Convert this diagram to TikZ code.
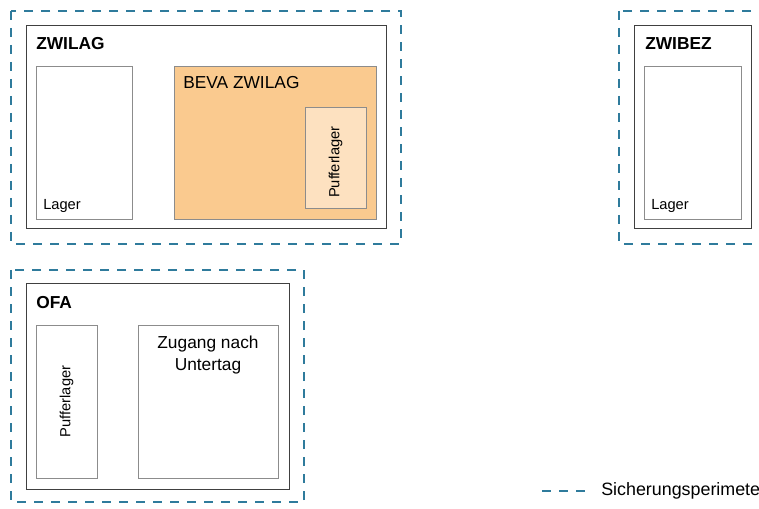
\documentclass[tikz,border=0pt]{standalone}
\usepackage{fontspec}
\setmainfont{Liberation Sans}
\usetikzlibrary{fit,positioning}

\definecolor{perimblue}{RGB}{47,123,156}
\definecolor{bevaorange}{RGB}{250,202,143}
\definecolor{pufferfill}{RGB}{253,225,192}
\definecolor{sitegray}{RGB}{64,64,64}
\definecolor{bldggray}{RGB}{140,140,140}

\tikzset{
  perim/.style={draw=perimblue, line width=0.9pt, dash pattern=on 6.75pt off 6pt},
  site/.style={draw=sitegray, line width=0.75pt, inner sep=0pt},
  bldg/.style={draw=bldggray, line width=0.6pt, inner sep=0pt},
  title/.style={font=\fontsize{13}{15.6}\selectfont\bfseries, anchor=base west, inner sep=0pt},
  lbl/.style={font=\fontsize{11}{13}\selectfont, anchor=base west, inner sep=0pt}
}

\begin{document}
\begin{tikzpicture}[x=0.75pt, y=-0.75pt]
    \clip (0,0) rectangle (759,509);

    % Sicherungsperimeter
    \draw[perim] (11,11) rectangle (401,244);
    \draw[perim] (619,11) rectangle (775,244);
    \draw[perim] (11,270) rectangle (304,502);

    % ZWILAG
    \node[site, fit={(26,26) (386,229)}] (zwilag) {};
    \node[title] (zwilagT) at (36,50) {ZWILAG};
    \node[bldg, fit={(36,66) (132,219)}] (lagerA) {};
    \node[lbl] (lagerAT) at (43,210) {Lager};
    \node[bldg, fill=bevaorange, fit={(174,66) (376,219)}] (beva) {};
    \node[lbl, font=\fontsize{13}{15.6}\selectfont] (bevaT) at (183,89) {BEVA ZWILAG};
    \node[bldg, fill=pufferfill, fit={(305,107) (366,208)}] (pufferA) {};
    \node[rotate=90, inner sep=0pt, font=\fontsize{11}{13}\selectfont] (pufferAT)
        at ([yshift=-3.5pt]pufferA.center) {Pufferlager};

    % ZWIBEZ
    \node[site, fit={(634,26) (751,229)}] (zwibez) {};
    \node[title] (zwibezT) at (645,50) {ZWIBEZ};
    \node[bldg, fit={(644,66) (741,219)}] (lagerB) {};
    \node[lbl] (lagerBT) at (651,210) {Lager};

    % OFA
    \node[site, fit={(26,284) (289,489)}] (ofa) {};
    \node[title] (ofaT) at (36,308) {OFA};
    \node[bldg, fit={(36,325) (97,478)}] (pufferB) {};
    \node[rotate=90, inner sep=0pt, font=\fontsize{11}{13}\selectfont] (pufferBT)
        at (pufferB.center) {Pufferlager};
    \node[bldg, fit={(138,325) (278,478)}] (zugang) {};
    \node[anchor=north, inner sep=0pt, align=center,
          font=\fontsize{13}{16.5}\selectfont] (zugangT)
        at (208,336) {Zugang nach\\Untertag};

    % Legende
    \coordinate (legA) at (542,491);
    \coordinate (legB) at (588,491);
    \draw[perim] (legA) -- (legB);
    \node[anchor=west, inner sep=0pt, font=\fontsize{13.4}{16}\selectfont] (legT)
        at (601,491) {Sicherungsperimeter};
\end{tikzpicture}
\end{document}
